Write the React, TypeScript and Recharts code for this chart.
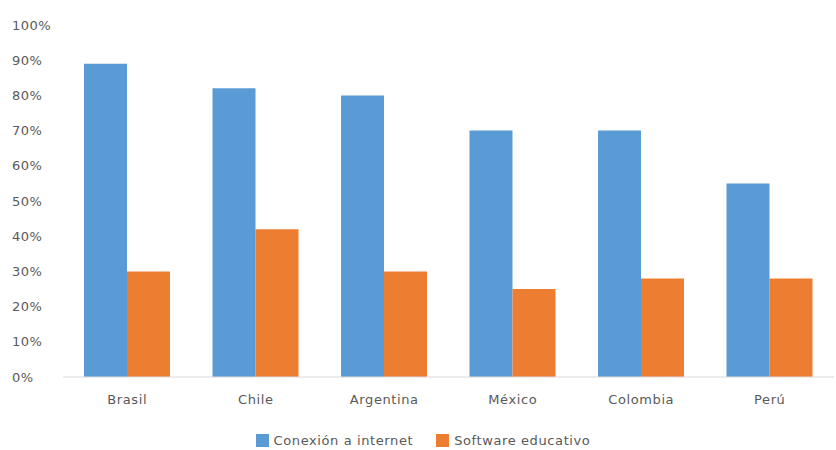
import { BarChart, Bar, XAxis, YAxis, Legend } from "recharts";

const countries = ["Brasil", "Chile", "Argentina", "México", "Colombia", "Perú"];
const conexion = [89, 82, 80, 70, 70, 55];
const software = [30, 42, 30, 25, 28, 28];
const yTicks = [0, 10, 20, 30, 40, 50, 60, 70, 80, 90, 100];

const data = countries.map((name, i) => ({
    name,
    conexion: conexion[i],
    software: software[i],
}));

const FONT = "'DejaVu Sans', sans-serif";
const TEXT = "#595959";

// y labels sit flush left, like the original spreadsheet export
const YTick = (props: any) => {
    const { y, payload } = props;
    return (
        <text x={12} y={y} dy="0.35em" textAnchor="start" fill={TEXT} fontSize={13} letterSpacing={0.5} fontFamily={FONT}>
            {`${payload.value}%`}
        </text>
    );
};

// legend row with wider spacing between the two entries
const LegendRow = (props: any) => {
    const { payload } = props;
    return (
        <div style={{ display: "flex", justifyContent: "center", gap: 23, paddingLeft: 12 }}>
            {payload.map((entry: any) => (
                <div key={entry.value} style={{ display: "flex", alignItems: "center" }}>
                    <span style={{ width: 13, height: 13, background: entry.color, marginRight: 5, display: "inline-block" }} />
                    <span style={{ color: TEXT, fontFamily: FONT, fontSize: 13, letterSpacing: 0.6 }}>{entry.value}</span>
                </div>
            ))}
        </div>
    );
};

export default function App() {
    return (
        <div style={{ position: "fixed", top: 0, left: 0, width: 836, height: 450, background: "#fff" }}>
            <BarChart
                width={836}
                height={450}
                data={data}
                margin={{ top: 25, right: 2, left: 0, bottom: 28 }}
                barGap={0}
            >
                <XAxis
                    dataKey="name"
                    axisLine={{ stroke: "#d9d9d9" }}
                    tickLine={false}
                    tickMargin={12}
                    tick={{ fill: TEXT, fontSize: 13, fontFamily: FONT, letterSpacing: 0.6 }}
                />
                <YAxis
                    width={63}
                    domain={[0, 100]}
                    ticks={yTicks}
                    axisLine={false}
                    tickLine={false}
                    tick={<YTick />}
                    interval={0}
                />
                <Legend verticalAlign="bottom" content={<LegendRow />} wrapperStyle={{ bottom: 2 }} />
                <Bar dataKey="conexion" name="Conexión a internet" fill="#5B9BD5" barSize={43} isAnimationActive={false} />
                <Bar dataKey="software" name="Software educativo" fill="#ED7D31" barSize={43} isAnimationActive={false} />
            </BarChart>
        </div>
    );
}
